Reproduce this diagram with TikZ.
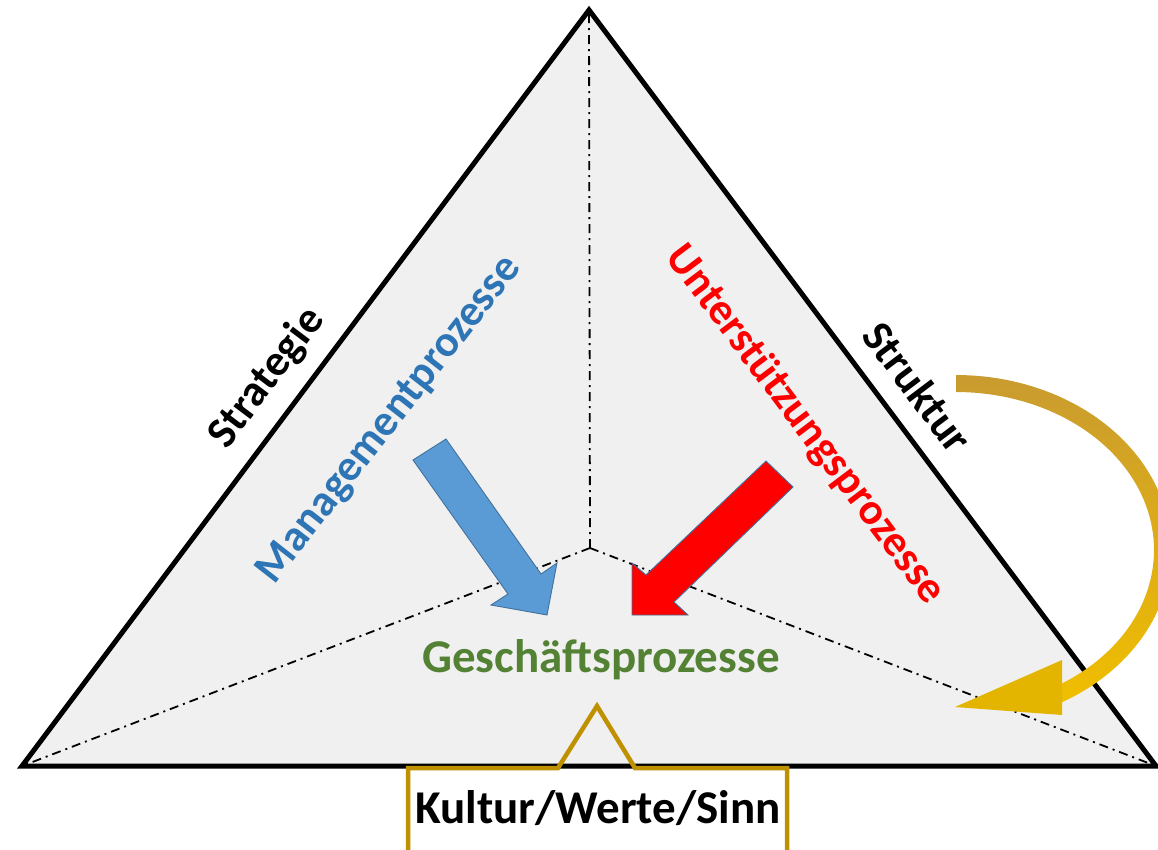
\documentclass[tikz,border=0pt]{standalone}
\usepackage{fontspec}
\setmainfont{Carlito}
\definecolor{trifill}{HTML}{F0F0F0}
\definecolor{mgblue}{HTML}{2E75B6}
\definecolor{arrblue}{HTML}{5B9BD5}
\definecolor{arrbluedark}{HTML}{41719C}
\definecolor{usred}{HTML}{FF0000}
\definecolor{gpgreen}{HTML}{548235}
\definecolor{boxgold}{HTML}{BF9000}
\definecolor{goldtop}{HTML}{C99B30}
\definecolor{goldbot}{HTML}{F0BE00}
\tikzset{
  lbl/.style={font=\fontsize{47}{56}\selectfont\bfseries, inner sep=0pt},
  rlbl/.style={font=\fontsize{44}{53}\selectfont\bfseries, inner sep=0pt},
  dashdotline/.style={line width=1.8pt, dash pattern=on 9pt off 5pt on 2pt off 5pt},
  blockarrow/.style={line width=0.9pt, line join=miter}
}
\begin{document}
\begin{tikzpicture}[x=1pt,y=-1pt, line join=miter]
\useasboundingbox (0,0) rectangle (1158,849);
\begin{scope}
\clip (0,0) rectangle (1158,849);
\coordinate (T) at (589,10);
\coordinate (L) at (22,766);
\coordinate (R) at (1156,766);
\coordinate (C) at (590,548);
% triangle
\filldraw[fill=trifill, line width=5pt] (T) -- (L) -- (R) -- cycle;
\draw[dashdotline] (C) -- (T);
\draw[dashdotline] (C) -- (L);
\draw[dashdotline] (C) -- (R);
% blue block arrow
\filldraw[blockarrow, fill=arrblue, draw=arrbluedark]
  (413,460) -- (446,439) -- (541,574) -- (557,563) -- (547,615) -- (491,605) -- (508,594) -- cycle;
% red block arrow
\filldraw[blockarrow, fill=usred, draw=arrbluedark]
  (766,461) -- (793,487) -- (674,602) -- (688,615) -- (632,615) -- (632,563) -- (646,575) -- cycle;
% gold curved arrow
\shade[top color=goldtop, bottom color=goldbot]
  (956,375) -- plot[domain=90:-60.46, samples=80] ({956+215*cos(\x)}, {550-175*sin(\x)})
  -- plot[domain=-57.6:90, samples=80] ({956+198*cos(\x)}, {550-158*sin(\x)}) -- cycle;
\fill[goldbot!95!black] (1062,660) -- (955,707) -- (1062,715) -- cycle;
% callout box
\draw[boxgold, line width=4.5pt] (408,870) -- (408,768) -- (558,768) -- (597,706) -- (635,768) -- (787,768) -- (787,870);
% labels
\node[rlbl, rotate=53] (strat) at (267,378) {Strategie};
\node[rlbl, rotate=-53] (strukt) at (918,387) {Struktur};
\node[rlbl, rotate=52, text=mgblue] (mgmt) at (390,420) {Managementprozesse};
\node[rlbl, rotate=-53, text=usred] (unter) at (805,425) {Unterstützungsprozesse};
\node[lbl, anchor=base, text=gpgreen] (gesch) at (601,672) {Geschäftsprozesse};
\node[lbl, anchor=base] (kultur) at (598,823) {Kultur/Werte/Sinn};
\end{scope}
\end{tikzpicture}
\end{document}
